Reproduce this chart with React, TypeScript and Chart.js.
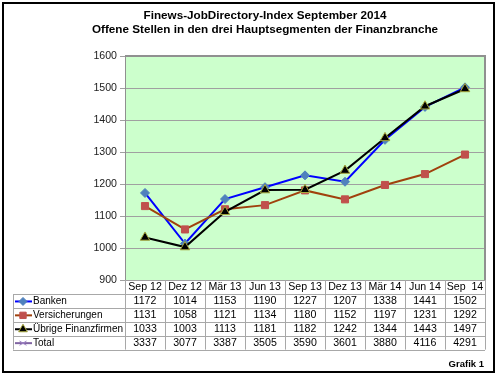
import React, { useEffect, useRef } from 'react';
import { Chart, registerables } from 'chart.js';

Chart.register(...registerables);

const titleLines = ['Finews-JobDirectory-Index September 2014', 'Offene Stellen in den drei Hauptsegmenten der Finanzbranche'];
const categories = ['Sep 12', 'Dez 12', 'Mär 13', 'Jun 13', 'Sep 13', 'Dez 13', 'Mär 14', 'Jun 14', 'Sep  14'];
const banken = [1172, 1014, 1153, 1190, 1227, 1207, 1338, 1441, 1502];
const versicherungen = [1131, 1058, 1121, 1134, 1180, 1152, 1197, 1231, 1292];
const uebrige = [1033, 1003, 1113, 1181, 1182, 1242, 1344, 1443, 1497];
const total = [3337, 3077, 3387, 3505, 3590, 3601, 3880, 4116, 4291];
const seriesNames = ['Banken', 'Versicherungen', 'Übrige Finanzfirmen', 'Total'];
const yMin = 900;
const yMax = 1600;
const yStep = 100;
const footnote = 'Grafik 1';

const FONT = '"Liberation Sans", Arial, sans-serif';

type Style = { line: string; marker: string; fill: string; stroke: string; r: number };
const styles: Style[] = [
  { line: '#0000ff', marker: 'rectRot', fill: '#4f81bd', stroke: '#4f81bd', r: 4.5 },
  { line: '#a0410d', marker: 'rect', fill: '#c0504d', stroke: '#c0504d', r: 5 },
  { line: '#000000', marker: 'triangle', fill: '#000000', stroke: '#a8a83c', r: 5.5 },
  { line: '#8064a2', marker: 'crossRot', fill: '#8064a2', stroke: '#9b7fc4', r: 4 },
];

function drawMarker(ctx: CanvasRenderingContext2D, s: Style, x: number, y: number) {
  ctx.save();
  ctx.fillStyle = s.fill;
  ctx.strokeStyle = s.stroke;
  ctx.lineWidth = 1;
  ctx.beginPath();
  const r = s.r;
  if (s.marker === 'rectRot') {
    ctx.moveTo(x, y - r); ctx.lineTo(x + r, y); ctx.lineTo(x, y + r); ctx.lineTo(x - r, y); ctx.closePath();
    ctx.fill(); ctx.stroke();
  } else if (s.marker === 'rect') {
    const h = r * Math.SQRT1_2;
    ctx.rect(x - h, y - h, 2 * h, 2 * h); ctx.fill(); ctx.stroke();
  } else if (s.marker === 'triangle') {
    ctx.moveTo(x, y - r); ctx.lineTo(x + r * 0.866, y + r * 0.5); ctx.lineTo(x - r * 0.866, y + r * 0.5); ctx.closePath();
    ctx.fill(); ctx.stroke();
  } else {
    ctx.moveTo(x - r, y - r * 0.6); ctx.lineTo(x + r, y + r * 0.6);
    ctx.moveTo(x + r, y - r * 0.6); ctx.lineTo(x - r, y + r * 0.6);
    ctx.stroke();
  }
  ctx.restore();
}

const decorPlugin = {
  id: 'decor',
  beforeDraw(chart: any) {
    const { ctx, chartArea: a } = chart;
    ctx.save();
    ctx.fillStyle = '#ffffff';
    ctx.fillRect(0, 0, chart.width, chart.height);
    ctx.fillStyle = '#ccffcc';
    ctx.fillRect(a.left, a.top, a.right - a.left, a.bottom - a.top);
    ctx.restore();
  },
  beforeDatasetsDraw(chart: any) {
    const { ctx, chartArea: a } = chart;
    ctx.save();
    ctx.strokeStyle = '#909090';
    ctx.lineWidth = 2;
    ctx.beginPath();
    ctx.moveTo(a.left, a.top);
    ctx.lineTo(a.right, a.top);
    ctx.lineTo(a.right, a.bottom);
    ctx.stroke();
    ctx.restore();
  },
  afterDraw(chart: any) {
    const { ctx, chartArea: a } = chart;
    const xs = chart.scales.x;
    ctx.save();
    // title
    ctx.fillStyle = '#000000';
    ctx.font = `bold 11.7px ${FONT}`;
    ctx.textAlign = 'center';
    ctx.textBaseline = 'middle';
    ctx.fillText(titleLines[0], 265, 16);
    ctx.fillText(titleLines[1], 265, 30);

    // data table
    const rowH = 13.9;
    const headTop = a.bottom;
    const bodyTop = a.bottom + 14;
    const legendLeft = 13;
    const half = (xs.getPixelForValue(1) - xs.getPixelForValue(0)) / 2;
    const rows = [banken, versicherungen, uebrige, total];
    const bottom = bodyTop + rows.length * rowH;
    ctx.strokeStyle = '#a8a8a8';
    ctx.lineWidth = 1;
    ctx.beginPath();
    for (let i = 0; i <= categories.length; i++) {
      const x = Math.round(xs.getPixelForValue(0) - half + i * 2 * half) + 0.5;
      ctx.moveTo(x, headTop);
      ctx.lineTo(x, bottom);
    }
    ctx.moveTo(legendLeft + 0.5, bodyTop);
    ctx.lineTo(legendLeft + 0.5, bottom);
    for (let r = 0; r <= rows.length; r++) {
      const y = Math.round(bodyTop + r * rowH) + 0.5;
      ctx.moveTo(legendLeft, y);
      ctx.lineTo(a.right, y);
    }
    ctx.stroke();

    ctx.fillStyle = '#000000';
    ctx.font = `10.6px ${FONT}`;
    ctx.textAlign = 'center';
    categories.forEach((c, i) => {
      ctx.fillText(c, xs.getPixelForValue(i), headTop + 7.5);
    });
    rows.forEach((vals, r) => {
      const cy = bodyTop + r * rowH + rowH / 2 + 0.5;
      ctx.font = `10.6px ${FONT}`;
      ctx.textAlign = 'center';
      ctx.fillStyle = '#000000';
      vals.forEach((v, i) => ctx.fillText(String(v), xs.getPixelForValue(i), cy));
      const s = styles[r];
      ctx.save();
      ctx.strokeStyle = s.line;
      ctx.lineWidth = 2;
      ctx.beginPath();
      ctx.moveTo(legendLeft + 2, cy);
      ctx.lineTo(legendLeft + 19, cy);
      ctx.stroke();
      ctx.restore();
      drawMarker(ctx, { ...s, r: s.r - 0.5 }, legendLeft + 10, cy);
      ctx.textAlign = 'left';
      ctx.fillStyle = '#000000';
      ctx.font = `10px ${FONT}`;
      ctx.fillText(seriesNames[r], legendLeft + 20, cy);
    });

    // footnote
    ctx.font = `bold 9.5px ${FONT}`;
    ctx.textAlign = 'right';
    ctx.fillText(footnote, 484, 364);

    // outer frame
    ctx.strokeStyle = '#000000';
    ctx.lineWidth = 2;
    ctx.strokeRect(3, 3, 491, 369);
    ctx.restore();
  },
};

export default function App() {
  const ref = useRef<HTMLCanvasElement>(null);
  useEffect(() => {
    if (!ref.current) return;
    const series = [banken, versicherungen, uebrige, total];
    const chart = new Chart(ref.current, {
      type: 'line',
      data: {
        labels: categories,
        datasets: series.map((d, i) => ({
          label: seriesNames[i],
          data: d,
          borderColor: styles[i].line,
          borderWidth: 2,
          pointStyle: styles[i].marker as any,
          pointRadius: styles[i].r,
          pointBackgroundColor: styles[i].fill,
          pointBorderColor: styles[i].stroke,
          pointBorderWidth: 1,
          tension: 0,
          order: 3 - i,
        })),
      },
      options: {
        responsive: false,
        animation: false,
        devicePixelRatio: 1,
        layout: { padding: { left: 0, right: 15, top: 56, bottom: 98 } },
        plugins: { legend: { display: false }, tooltip: { enabled: false }, title: { display: false } },
        scales: {
          x: { type: 'category', offset: true, display: false },
          y: {
            min: yMin,
            max: yMax,
            ticks: {
              stepSize: yStep,
              color: '#222222',
              font: { family: FONT, size: 10.6 },
              padding: 3,
              callback: (v: any) => String(v),
            },
            grid: { color: '#a0a0a0', tickLength: 5, drawTicks: true },
            border: { color: '#909090', width: 1 },
            afterFit: (s: any) => { s.width = 125; },
          },
        },
      },
      plugins: [decorPlugin],
    });
    return () => chart.destroy();
  }, []);
  return (
    <div style={{ position: 'fixed', left: 0, top: 0, width: 500, height: 378, background: '#fff' }}>
      <canvas ref={ref} width={500} height={378} style={{ width: 500, height: 378, display: 'block' }} />
    </div>
  );
}
